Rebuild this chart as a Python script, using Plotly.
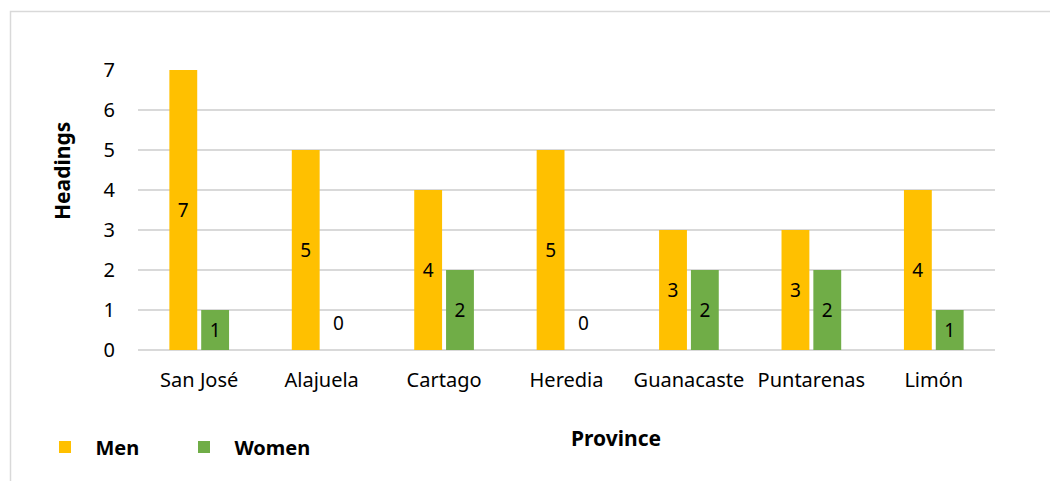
import plotly.graph_objects as go

provinces = ["San José", "Alajuela", "Cartago", "Heredia", "Guanacaste", "Puntarenas", "Limón"]
men = [7, 5, 4, 5, 3, 3, 4]
women = [1, 0, 2, 0, 2, 2, 1]
y_ticks = [0, 1, 2, 3, 4, 5, 6, 7]

FONT = "Noto Sans"
W, H = 1050, 481
L, R, T, B = 138, 55, 70, 131
pw, ph = W - L - R, H - T - B

def px_x(x):
    return (x - L) / pw

def px_y(y):
    return (H - B - y) / ph

fig = go.Figure()
series = [("Men", men, "#FFC000"), ("Women", women, "#70AD47")]
for name, vals, col in series:
    fig.add_trace(go.Bar(
        x=provinces, y=vals, name="\u00a0\u00a0<b>" + name + "</b>",
        marker=dict(color=col, line=dict(width=0)),
        text=[str(v) if v > 0 else "" for v in vals],
        textposition="inside", insidetextanchor="middle",
        textfont=dict(family=FONT, size=19, color="#000000"),
        hoverinfo="skip",
    ))

# labels for zero-valued bars
for i, v in enumerate(women):
    if v == 0:
        fig.add_annotation(x=provinces[i], y=0, xref="x", yref="y", text="0",
                           showarrow=False, yanchor="bottom", yshift=12, xshift=17,
                           font=dict(family=FONT, size=19, color="#000000"))

fig.add_shape(type="rect", xref="paper", yref="paper",
              x0=px_x(10.5), x1=px_x(1065), y0=px_y(11.5), y1=px_y(500),
              line=dict(color="#d9d9d9", width=1.5), fillcolor="rgba(0,0,0,0)", layer="below")

fig.add_annotation(xref="paper", yref="paper", x=px_x(62), y=px_y(171),
                   xanchor="center", yanchor="middle",
                   text="<b>Headings</b>", textangle=-90, showarrow=False,
                   font=dict(family=FONT, size=21, color="#000000"))
fig.add_annotation(xref="paper", yref="paper", x=px_x(616), y=px_y(438),
                   xanchor="center", yanchor="middle",
                   text="<b>Province</b>", showarrow=False,
                   font=dict(family=FONT, size=21, color="#000000"))

fig.update_layout(
    width=W, height=H,
    margin=dict(l=L, r=R, t=T, b=B),
    paper_bgcolor="white", plot_bgcolor="white",
    barmode="group", bargap=0.48, bargroupgap=0.125,
    font=dict(family=FONT, size=19, color="#000000"),
    showlegend=True,
    legend=dict(orientation="h", x=px_x(45), y=px_y(447), xanchor="left", yanchor="middle",
                entrywidth=94, entrywidthmode="pixels", itemclick=False,
                font=dict(family=FONT, size=20, color="#000000"), bgcolor="rgba(0,0,0,0)"),
    xaxis=dict(showline=False, ticks="", tickfont=dict(family=FONT, size=20),
               ticklabelstandoff=16),
    yaxis=dict(range=[0, 7], tickvals=y_ticks, showgrid=True, gridcolor="#d9d9d9",
               gridwidth=1.5, zeroline=True, zerolinecolor="#d9d9d9", zerolinewidth=1.5,
               ticks="", tickfont=dict(family=FONT, size=20), ticklabelstandoff=22,
               showline=False),
)

fig.write_html("out.html", config={"displayModeBar": False},
               post_script="document.body.style.margin='0';document.body.style.overflow='hidden';")
